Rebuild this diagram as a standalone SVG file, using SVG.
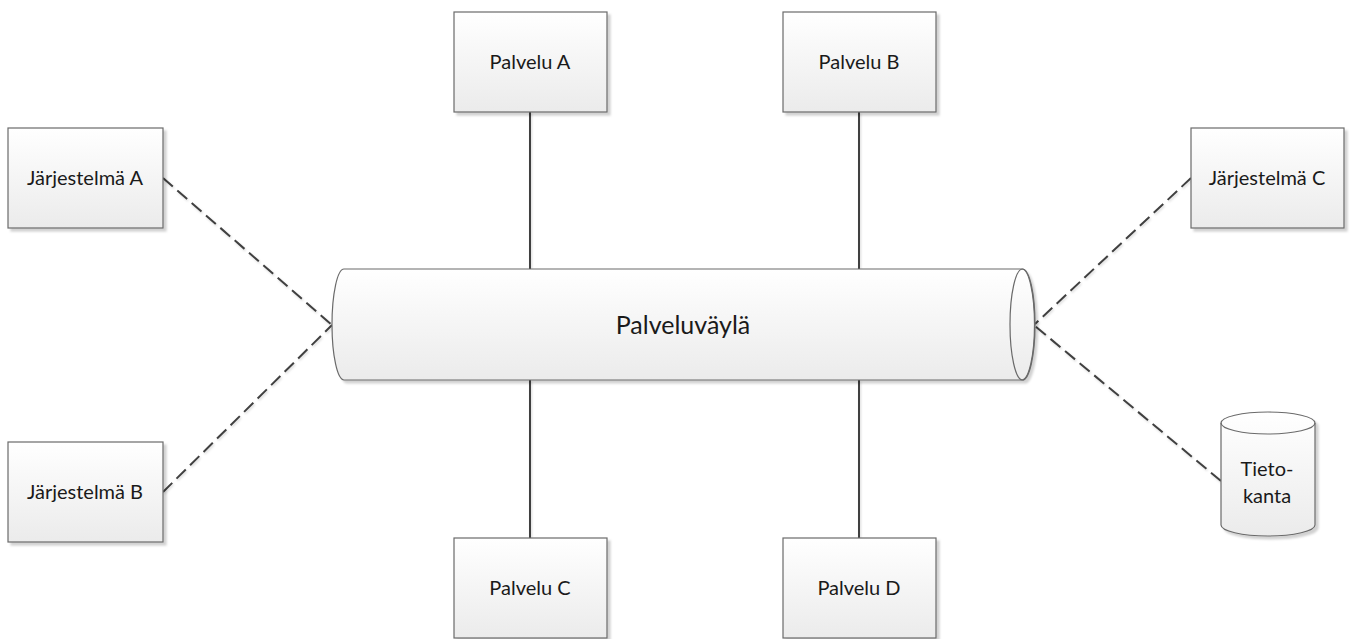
<svg xmlns="http://www.w3.org/2000/svg" width="1351" height="639" viewBox="0 0 1351 639">
  <defs>
    <linearGradient id="fillGrad" x1="0" y1="0" x2="0" y2="1">
      <stop offset="0" stop-color="#ffffff"/>
      <stop offset="1" stop-color="#ebebeb"/>
    </linearGradient>
    <filter id="shadow" x="-10%" y="-10%" width="130%" height="130%">
      <feDropShadow dx="3" dy="3" stdDeviation="1.2" flood-color="#000000" flood-opacity="0.18"/>
    </filter>
    <filter id="lineShadow" x="-10%" y="-10%" width="130%" height="130%">
      <feDropShadow dx="1" dy="1.5" stdDeviation="0.8" flood-color="#000000" flood-opacity="0.15"/>
    </filter>
  </defs>
  <style>
    .shape { fill: url(#fillGrad); stroke: #6a6a6a; stroke-width: 1.2; filter: url(#shadow); }
    .label { font-family: Lato, "Open Sans", "Liberation Sans", sans-serif; font-size: 20px; fill: #1a1a1a; text-anchor: middle; }
    .busLabel { font-size: 25px; }
    .solid { stroke: #404040; stroke-width: 2; fill: none; }
    .dashed { stroke: #404040; stroke-width: 2; fill: none; stroke-dasharray: 13 6; }
  </style>
  <rect width="1351" height="639" fill="#ffffff"/>

  <!-- connectors -->
  <g id="connectors" filter="url(#lineShadow)">
    <line class="solid" x1="530" y1="112" x2="530" y2="269"/>
    <line class="solid" x1="859" y1="112" x2="859" y2="269"/>
    <line class="solid" x1="530" y1="380" x2="530" y2="538"/>
    <line class="solid" x1="859" y1="380" x2="859" y2="538"/>
    <line class="dashed" x1="163" y1="178" x2="332" y2="325"/>
    <line class="dashed" x1="163" y1="492" x2="332" y2="325"/>
    <line class="dashed" x1="1191" y1="178" x2="1035" y2="324"/>
    <line class="dashed" x1="1221" y1="481" x2="1035" y2="326"/>
  </g>

  <!-- service bus -->
  <g id="bus">
    <path class="shape" d="M344,269 L1022,269 A12.5,55.5 0 0 1 1022,380 L344,380 A12,55.5 0 0 1 344,269 Z"/>
    <ellipse cx="1022.5" cy="324.5" rx="12.5" ry="55.5" fill="none" stroke="#6a6a6a" stroke-width="1.2"/>
    <text class="label busLabel" x="683" y="334">Palveluväylä</text>
  </g>

  <g id="palvelu-a">
    <rect class="shape" x="454" y="12" width="153" height="100"/>
    <text class="label" x="530" y="69">Palvelu A</text>
  </g>
  <g id="palvelu-b">
    <rect class="shape" x="783" y="12" width="153" height="100"/>
    <text class="label" x="859" y="69">Palvelu B</text>
  </g>
  <g id="palvelu-c">
    <rect class="shape" x="454" y="538" width="153" height="100"/>
    <text class="label" x="530" y="595">Palvelu C</text>
  </g>
  <g id="palvelu-d">
    <rect class="shape" x="783" y="538" width="153" height="100"/>
    <text class="label" x="859" y="595">Palvelu D</text>
  </g>

  <g id="jarjestelma-a">
    <rect class="shape" x="8" y="128" width="155" height="100"/>
    <text class="label" x="85" y="185">Järjestelmä A</text>
  </g>
  <g id="jarjestelma-b">
    <rect class="shape" x="8" y="442" width="155" height="100"/>
    <text class="label" x="85" y="499">Järjestelmä B</text>
  </g>
  <g id="jarjestelma-c">
    <rect class="shape" x="1191" y="128" width="153" height="100"/>
    <text class="label" x="1267" y="185">Järjestelmä C</text>
  </g>

  <!-- database cylinder -->
  <g id="tietokanta">
    <path class="shape" d="M1221,423 A47,11 0 0 1 1315,423 L1315,525 A47,11 0 0 1 1221,525 Z"/>
    <path d="M1221,423 A47,11 0 0 0 1315,423" fill="none" stroke="#6a6a6a" stroke-width="1.2"/>
    <text class="label" x="1267" y="476">Tieto-</text>
    <text class="label" x="1267" y="503">kanta</text>
  </g>
</svg>
